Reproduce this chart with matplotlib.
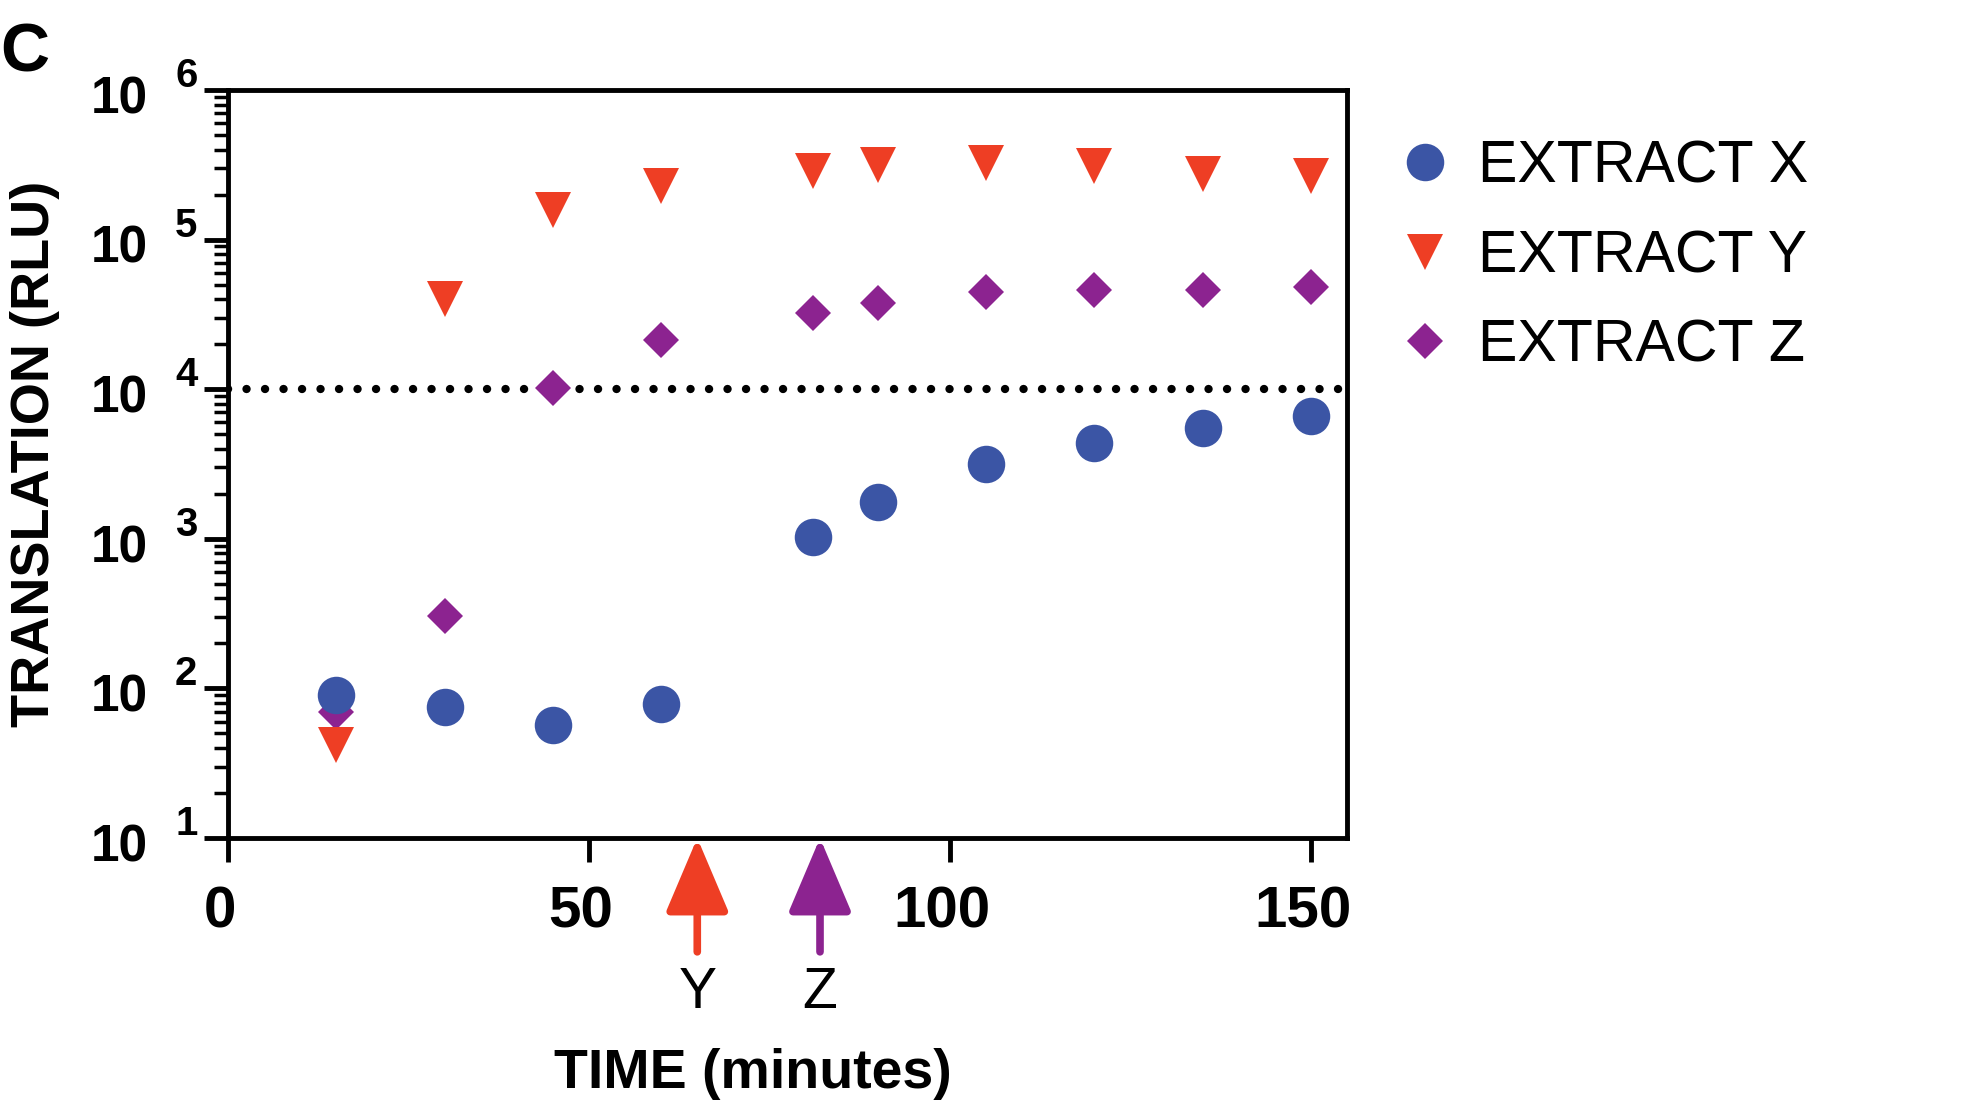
import matplotlib
matplotlib.use("Agg")
import matplotlib.pyplot as plt
from matplotlib.ticker import LogLocator, NullFormatter, FixedLocator
from matplotlib.transforms import ScaledTranslation

plt.rcParams['font.family'] = ['Liberation Sans', 'DejaVu Sans']

# data
time_min = [15, 30, 45, 60, 81, 90, 105, 120, 135, 150]
extract_x = [91, 75, 57, 79, 1030, 1770, 3150, 4350, 5530, 6590]
extract_y = [42, 40200, 157000, 230000, 286000, 316000, 323000, 309000, 275000, 268000]
extract_z = [70, 305, 10160, 21300, 32500, 37900, 44800, 46100, 46100, 48400]
threshold = 1e4
arrow_times = [65, 82]
arrow_names = ["Y", "Z"]
y_exponents = [1, 2, 3, 4, 5, 6]
x_ticks = [0, 50, 100, 150]

blue = "#3b55a5"
red = "#ee3e24"
purple = "#8c2390"

fig = plt.figure(figsize=(19.72, 11.02), dpi=100)
ax = fig.add_axes([0.1156, 0.2396, 0.5675, 0.6787])

ax.plot(time_min, extract_z, 'D', color=purple, ms=18.5, mew=0, label='EXTRACT Z', zorder=3)
ax.plot(time_min, extract_y, 'v', color=red, ms=26.5, mew=0, label='EXTRACT Y', zorder=4)
ax.plot(time_min, extract_x, 'o', color=blue, ms=27, mew=0, label='EXTRACT X', zorder=5)

ax.axhline(threshold, color='black', lw=6, dashes=(0.01, 2.21),
           dash_capstyle='round', zorder=2)

ax.set_yscale('log')
ax.set_ylim(10, 1e6)
ax.set_xlim(0, 155)

ax.yaxis.set_major_locator(FixedLocator([10.0 ** k for k in y_exponents]))
ax.yaxis.set_minor_locator(LogLocator(base=10, subs=range(2, 10)))
ax.yaxis.set_major_formatter(NullFormatter())
ax.yaxis.set_minor_formatter(NullFormatter())

ax.set_xticks(x_ticks)
ax.set_xticklabels([str(t) for t in x_ticks], fontsize=42, fontweight='bold')
ax.tick_params(axis='x', which='major', length=17.5, width=3.5, pad=17)
ax.tick_params(axis='y', which='major', length=17.5, width=3.5)
ax.tick_params(axis='y', which='minor', length=10, width=2.5)
# labels in the original sit a little left of their ticks
shift = ScaledTranslation(-8 / 100, 0, fig.dpi_scale_trans)
for lab in ax.get_xticklabels():
    lab.set_transform(lab.get_transform() + shift)

for s in ax.spines.values():
    s.set_linewidth(3.5)

# "10" with a raised exponent, as in the original
for k in y_exponents:
    ax.annotate("10", xy=(0, 10.0 ** k), xycoords=('axes fraction', 'data'),
                xytext=(-58, -7), textcoords='offset points',
                ha='right', va='center', fontsize=37, fontweight='bold',
                annotation_clip=False)
    ax.annotate(str(k), xy=(0, 10.0 ** k), xycoords=('axes fraction', 'data'),
                xytext=(-22, 10), textcoords='offset points',
                ha='right', va='center', fontsize=29, fontweight='bold',
                annotation_clip=False)

# addition time arrows under the x axis
for t, name, c in zip(arrow_times, arrow_names, [red, purple]):
    ax.annotate("", xy=(t, 0), xycoords=('data', 'axes fraction'),
                xytext=(t, -82), textcoords=('data', 'offset points'),
                arrowprops=dict(arrowstyle='-|>,head_length=46,head_width=19.5',
                                mutation_scale=1, lw=5.5, color=c,
                                shrinkA=0, shrinkB=0, capstyle='round'),
                annotation_clip=False)
    ax.annotate(name, xy=(t, 0), xycoords=('data', 'axes fraction'),
                xytext=(0, -111.5), textcoords='offset points',
                ha='center', va='center', fontsize=41, annotation_clip=False)

ax.set_ylabel("TRANSLATION (RLU)", fontsize=39, fontweight='bold')
ax.yaxis.set_label_coords(-0.150, 0.513)
fig.text(0.3818, 0.0253, "TIME (minutes)", fontsize=40, fontweight='bold',
         ha='center', va='center')
fig.text(0.0127, 0.951, "C", fontsize=49, fontweight='bold', ha='center', va='center')

h, l = ax.get_legend_handles_labels()
order = [2, 1, 0]
ax.legend([h[i] for i in order], [l[i] for i in order],
          loc='upper left', bbox_to_anchor=(0.7075, 0.8732),
          bbox_transform=fig.transFigure, frameon=False, fontsize=42.5,
          handlelength=1.0, handletextpad=0.395, labelspacing=0.585,
          borderpad=0, borderaxespad=0, numpoints=1)

fig.savefig("out.png", dpi=100)
